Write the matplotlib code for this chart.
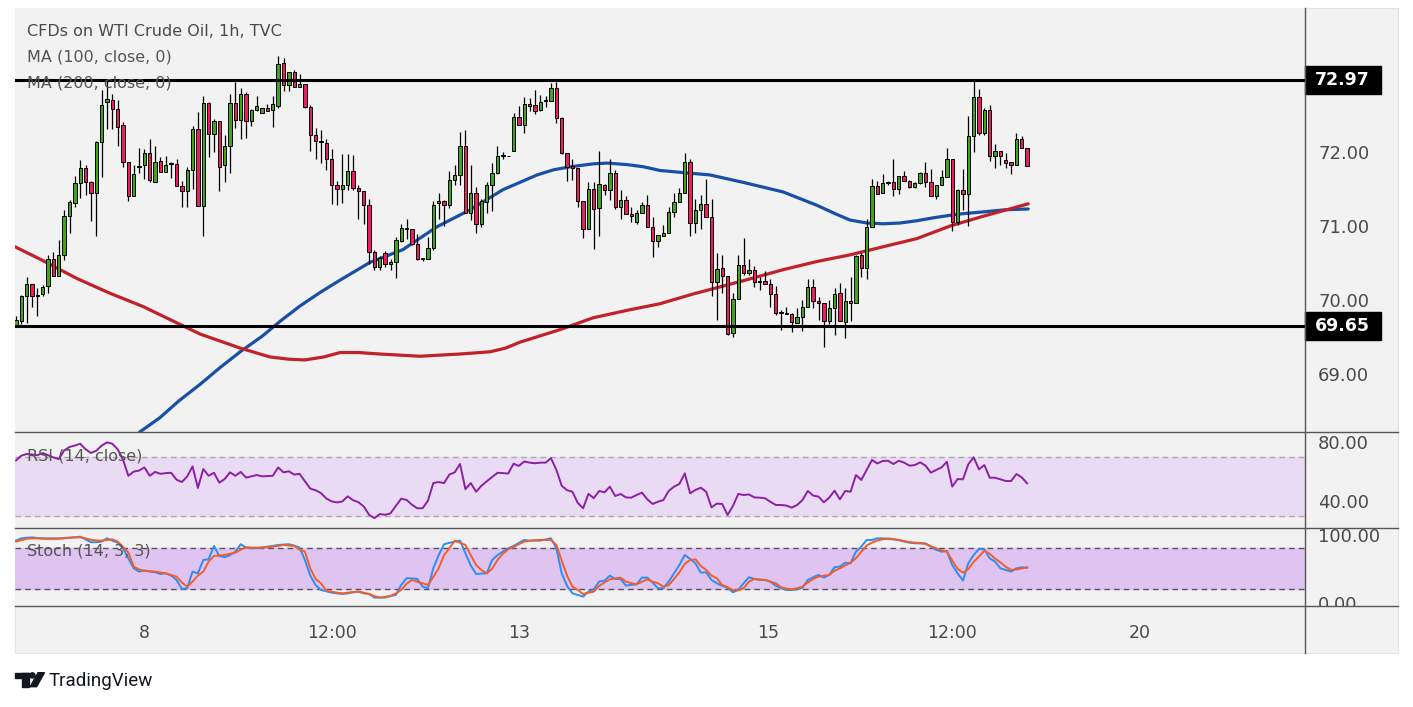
import matplotlib
matplotlib.use('agg')
import matplotlib.pyplot as plt
import matplotlib.transforms as mtrans
from matplotlib.patches import Rectangle, Polygon, Ellipse

plt.rcParams['font.family'] = ['DejaVu Sans']

# hourly candles, WTI crude CFD
opens = [69.65, 69.71, 70.05, 70.21, 70.05, 70.08, 70.19, 70.56, 70.33, 70.61,
         71.14, 71.31, 71.58, 71.79, 71.60, 71.45, 72.13, 72.67, 72.70, 72.58,
         72.36, 71.87, 71.41, 71.80, 71.82, 71.99, 71.60, 71.88, 71.73, 71.84,
         71.84, 71.54, 71.47, 71.75, 72.31, 71.27, 72.66, 72.24, 72.42, 71.83,
         72.08, 72.66, 72.43, 72.79, 72.42, 72.57, 72.53, 72.60, 72.57, 72.62,
         73.20, 72.90, 73.08, 72.88, 72.92, 72.61, 72.23, 72.15, 72.12, 71.90,
         71.56, 71.50, 71.55, 71.74, 71.52, 71.47, 71.28, 70.65, 70.44, 70.64,
         70.49, 70.52, 70.80, 70.96, 70.96, 70.75, 70.55, 70.55, 70.70, 71.31,
         71.34, 71.29, 71.62, 71.69, 72.08, 71.18, 71.44, 71.03, 71.32, 71.55,
         71.72, 71.95, 71.94, 72.02, 72.47, 72.37, 72.65, 72.63, 72.57, 72.69,
         72.69, 72.87, 72.46, 71.98, 71.81, 71.79, 71.34, 70.96, 71.50, 71.24,
         71.56, 71.48, 71.72, 71.25, 71.35, 71.16, 71.05, 71.18, 71.29, 70.99,
         70.80, 70.86, 70.90, 71.19, 71.33, 71.45, 71.86, 71.04, 71.22, 71.30,
         71.12, 70.24, 70.43, 70.32, 69.55, 70.02, 70.47, 70.36, 70.41, 70.24,
         70.25, 70.21, 70.08, 69.83, 69.83, 69.81, 69.69, 69.77, 69.91, 70.17,
         69.98, 69.96, 69.72, 69.89, 70.09, 69.70, 69.99, 69.96, 70.61, 70.43,
         70.99, 71.54, 71.44, 71.58, 71.60, 71.50, 71.68, 71.61, 71.53, 71.58,
         71.71, 71.59, 71.41, 71.55, 71.66, 71.91, 71.06, 71.49, 71.43, 72.22,
         72.74, 72.26, 72.57, 71.95, 72.01, 71.89, 71.87, 71.83, 72.18, 72.05]
highs = [69.78, 70.07, 70.31, 70.21, 70.16, 70.20, 70.61, 70.65, 70.81, 71.22,
         71.35, 71.67, 71.89, 71.82, 71.61, 72.15, 72.84, 72.97, 72.78, 72.70,
         72.41, 71.87, 71.83, 72.05, 72.04, 72.17, 72.08, 71.93, 71.95, 71.87,
         71.90, 71.61, 71.80, 72.35, 72.54, 72.76, 72.67, 72.44, 72.42, 72.23,
         72.78, 72.95, 72.86, 72.81, 72.58, 72.75, 72.60, 72.65, 72.75, 73.30,
         73.27, 73.08, 73.11, 73.06, 72.92, 72.63, 72.32, 72.30, 72.17, 72.04,
         71.61, 71.97, 71.97, 71.96, 71.56, 71.47, 71.37, 70.67, 70.60, 70.66,
         70.56, 70.85, 71.03, 71.10, 70.96, 70.89, 70.57, 70.85, 71.34, 71.45,
         71.35, 71.74, 71.82, 72.27, 72.30, 71.82, 71.53, 71.37, 71.60, 71.85,
         72.08, 72.00, 71.94, 72.53, 72.62, 72.74, 72.73, 72.84, 72.77, 72.75,
         72.93, 72.95, 72.47, 71.99, 71.90, 71.79, 71.34, 71.59, 71.59, 72.01,
         71.57, 71.91, 71.76, 71.49, 71.40, 71.26, 71.22, 71.32, 71.42, 71.12,
         70.88, 71.01, 71.26, 71.44, 71.52, 71.99, 71.91, 71.36, 71.42, 71.63,
         71.36, 70.63, 70.61, 70.32, 70.10, 70.61, 70.84, 70.56, 70.46, 70.31,
         70.39, 70.28, 70.19, 69.87, 69.90, 69.83, 69.89, 70.00, 70.28, 70.28,
         70.04, 69.96, 70.00, 70.16, 70.23, 70.16, 70.31, 70.61, 70.64, 71.10,
         71.63, 71.61, 71.70, 71.61, 71.90, 71.68, 71.74, 71.62, 71.60, 71.73,
         71.86, 71.77, 71.55, 71.76, 72.06, 71.91, 71.50, 71.77, 72.49, 72.97,
         72.85, 72.59, 72.64, 72.11, 72.01, 71.99, 71.87, 72.25, 72.22, 72.05]
lows = [69.65, 69.67, 69.69, 69.90, 69.78, 70.05, 70.09, 70.33, 70.32, 70.54,
        70.90, 71.25, 71.38, 71.42, 71.07, 70.87, 71.66, 72.31, 72.31, 72.08,
        71.80, 71.34, 71.41, 71.71, 71.63, 71.60, 71.60, 71.73, 71.73, 71.65,
        71.54, 71.25, 71.25, 71.50, 71.27, 70.87, 71.93, 72.00, 71.47, 71.60,
        71.71, 72.33, 72.17, 72.19, 72.35, 72.55, 72.53, 72.56, 72.34, 72.59,
        72.83, 72.83, 72.88, 72.88, 72.60, 72.02, 71.90, 71.85, 71.75, 71.30,
        71.28, 71.31, 71.49, 71.49, 71.10, 71.03, 70.48, 70.40, 70.41, 70.45,
        70.40, 70.30, 70.78, 70.83, 70.74, 70.54, 70.53, 70.55, 70.68, 71.10,
        71.00, 71.24, 71.55, 71.55, 71.18, 71.08, 70.91, 70.98, 71.17, 71.20,
        71.70, 71.90, 71.94, 72.01, 72.36, 72.26, 72.55, 72.52, 72.55, 72.61,
        72.69, 72.39, 71.97, 71.61, 71.62, 71.25, 70.84, 70.96, 70.69, 70.86,
        71.42, 71.35, 71.23, 71.10, 71.16, 71.06, 71.03, 71.17, 70.98, 70.58,
        70.71, 70.86, 70.90, 71.12, 71.32, 71.44, 70.86, 70.90, 70.96, 71.12,
        70.05, 69.73, 70.10, 69.53, 69.50, 70.02, 70.34, 70.34, 70.18, 70.13,
        70.21, 69.91, 69.80, 69.59, 69.81, 69.57, 69.69, 69.58, 69.91, 69.89,
        69.73, 69.36, 69.68, 69.53, 69.71, 69.49, 69.71, 69.96, 70.31, 70.28,
        70.99, 71.43, 71.44, 71.56, 71.40, 71.43, 71.61, 71.51, 71.51, 71.57,
        71.53, 71.41, 71.37, 71.55, 71.66, 70.93, 71.02, 71.21, 71.00, 72.00,
        72.23, 72.23, 71.88, 71.79, 71.83, 71.79, 71.70, 71.83, 72.05, 71.81]
closes = [69.73, 70.05, 70.21, 70.06, 70.07, 70.18, 70.56, 70.33, 70.61, 71.14,
          71.33, 71.58, 71.79, 71.60, 71.45, 72.13, 72.64, 72.71, 72.58, 72.34,
          71.87, 71.41, 71.70, 71.81, 71.99, 71.62, 71.87, 71.73, 71.83, 71.84,
          71.54, 71.47, 71.75, 72.31, 71.27, 72.66, 72.24, 72.42, 71.80, 72.08,
          72.66, 72.43, 72.79, 72.42, 72.57, 72.62, 72.60, 72.56, 72.65, 73.19,
          72.90, 73.08, 72.88, 72.92, 72.61, 72.23, 72.15, 72.13, 71.90, 71.56,
          71.50, 71.55, 71.74, 71.52, 71.47, 71.28, 70.65, 70.45, 70.57, 70.49,
          70.52, 70.81, 70.97, 70.96, 70.75, 70.55, 70.55, 70.70, 71.29, 71.34,
          71.29, 71.62, 71.69, 72.08, 71.18, 71.44, 71.03, 71.34, 71.55, 71.72,
          71.95, 71.95, 71.94, 72.47, 72.37, 72.65, 72.62, 72.56, 72.68, 72.70,
          72.87, 72.46, 71.98, 71.80, 71.79, 71.34, 70.96, 71.50, 71.23, 71.57,
          71.49, 71.71, 71.25, 71.35, 71.16, 71.14, 71.18, 71.29, 70.99, 70.80,
          70.88, 70.90, 71.19, 71.33, 71.45, 71.86, 71.04, 71.22, 71.30, 71.12,
          70.24, 70.42, 70.32, 69.54, 70.02, 70.47, 70.36, 70.40, 70.24, 70.24,
          70.21, 70.08, 69.83, 69.83, 69.81, 69.70, 69.77, 69.91, 70.17, 69.98,
          69.96, 69.72, 69.89, 70.08, 69.71, 69.98, 69.96, 70.60, 70.43, 70.98,
          71.54, 71.43, 71.58, 71.59, 71.50, 71.68, 71.61, 71.53, 71.58, 71.71,
          71.59, 71.41, 71.55, 71.66, 71.91, 71.06, 71.49, 71.43, 72.22, 72.74,
          72.26, 72.57, 71.95, 72.01, 71.94, 71.85, 71.83, 72.18, 72.05, 71.81]

# moving averages, read at a few bar positions
ma100_idx = [20, 23.2, 26.9, 30.5, 34.4, 38.2, 41.9, 46, 49.5, 53.1, 56.8, 60.6, 66.2, 72.3,
             78.7, 84.9, 91, 97.4, 100.5, 103.6, 107.9, 110.5, 114.2, 117.3, 120.4, 125,
             129.7, 135.9, 143.4, 149.7, 153, 155.9, 159.1, 162, 165.2, 168.3, 171.4, 176,
             180.7, 185, 189.2]
ma100_val = [67.95, 68.22, 68.41, 68.64, 68.86, 69.09, 69.30, 69.51, 69.72, 69.92, 70.10,
             70.27, 70.51, 70.68, 70.99, 71.22, 71.49, 71.69, 71.76, 71.80, 71.84, 71.85,
             71.83, 71.80, 71.75, 71.72, 71.69, 71.59, 71.46, 71.28, 71.17, 71.08, 71.04,
             71.03, 71.04, 71.07, 71.11, 71.16, 71.19, 71.22, 71.23]
ma200_idx = [-0.2, 5.1, 11.4, 17.6, 23.8, 30.1, 34.4, 41.9, 47.5, 51, 54, 57.5, 60.6, 64,
             68, 75.5, 83, 88.6, 91.5, 94.2, 101.7, 107.9, 114.2, 120.4, 126.5, 135.9, 143.4,
             149.7, 155.9, 162.1, 168.4, 174.6, 180.7, 189.2]
ma200_val = [70.72, 70.53, 70.29, 70.09, 69.91, 69.69, 69.54, 69.35, 69.23, 69.20, 69.19,
             69.23, 69.29, 69.29, 69.27, 69.24, 69.27, 69.30, 69.35, 69.43, 69.60, 69.76,
             69.86, 69.95, 70.08, 70.26, 70.41, 70.52, 70.61, 70.72, 70.83, 71.00, 71.13,
             71.30]

rsi = [67.5, 70.7, 71.8, 71.5, 71.0, 72.5, 71.0, 69.5, 68.4, 74.2,
       76.5, 77.5, 78.7, 75.0, 72.5, 74.0, 77.4, 79.6, 78.7, 75.0,
       68.0, 57.2, 60.0, 60.7, 62.8, 57.2, 59.8, 58.5, 59.0, 59.2,
       54.6, 53.0, 56.8, 63.5, 49.0, 61.7, 57.2, 59.2, 52.6, 55.0,
       59.5, 57.2, 59.8, 56.0, 56.8, 57.7, 56.8, 57.0, 57.2, 62.8,
       59.5, 60.2, 58.0, 58.5, 53.5, 48.6, 47.5, 45.6, 42.0, 40.0,
       39.3, 40.0, 43.4, 40.8, 39.5, 36.6, 31.0, 28.8, 31.5, 31.0,
       32.0, 37.0, 41.8, 41.0, 37.8, 35.4, 35.4, 40.5, 52.3, 53.0,
       52.3, 58.0, 59.5, 65.1, 48.2, 52.3, 46.5, 50.5, 53.5, 56.4,
       59.2, 59.0, 58.7, 65.3, 63.8, 66.8, 66.0, 65.6, 66.0, 66.0,
       69.0, 61.2, 50.5, 47.5, 46.5, 39.0, 35.4, 45.0, 42.2, 47.0,
       46.1, 49.9, 43.6, 45.0, 42.7, 42.5, 44.3, 45.9, 41.4, 38.3,
       39.8, 40.9, 47.0, 49.9, 51.7, 58.8, 45.4, 47.7, 49.2, 46.5,
       36.0, 38.5, 38.3, 30.9, 36.9, 45.0, 44.3, 44.7, 42.7, 42.5,
       42.1, 39.8, 37.6, 37.6, 37.2, 35.8, 37.6, 40.9, 47.0, 43.9,
       43.2, 39.4, 42.5, 47.2, 41.4, 47.0, 46.5, 57.7, 54.4, 61.1,
       67.8, 65.5, 67.1, 67.3, 65.1, 67.3, 66.0, 64.0, 64.4, 66.2,
       64.0, 59.3, 61.1, 62.8, 66.6, 49.9, 55.0, 54.8, 64.9, 69.6,
       61.5, 64.4, 55.9, 55.9, 54.8, 53.7, 53.7, 58.4, 56.1, 52.1]

stoch_k = [91.2, 94.6, 95.5, 96.0, 95.0, 94.6, 94.6, 94.6, 94.6, 94.6,
           95.5, 96.0, 97.0, 93.0, 88.8, 89.0, 89.8, 94.6, 91.2, 88.3,
           80.0, 65.4, 50.7, 45.9, 47.3, 46.0, 44.9, 42.4, 43.4, 40.0,
           33.7, 20.5, 21.5, 45.9, 43.4, 62.9, 63.9, 83.4, 68.8, 67.0,
           70.0, 75.1, 85.9, 81.0, 80.5, 80.0, 81.0, 82.4, 83.5, 84.9,
           85.5, 85.9, 84.0, 81.0, 62.9, 40.0, 26.3, 19.0, 17.0, 15.1,
           14.0, 13.2, 14.0, 15.5, 16.6, 14.0, 13.2, 7.8, 7.8, 7.8,
           10.0, 11.7, 26.3, 36.1, 36.0, 35.1, 23.9, 21.5, 50.7, 70.0,
           85.9, 88.0, 89.8, 91.2, 72.7, 55.0, 42.4, 43.0, 43.4, 62.9,
           70.0, 75.1, 80.0, 83.4, 88.0, 92.2, 91.2, 91.2, 91.2, 93.0,
           94.6, 80.0, 43.4, 25.0, 14.1, 11.7, 9.3, 16.6, 20.0, 31.2,
           32.7, 40.0, 35.1, 35.1, 25.4, 26.3, 27.3, 37.1, 37.1, 29.8,
           21.5, 21.5, 31.2, 43.4, 55.6, 70.2, 64.4, 58.0, 44.4, 44.9,
           33.7, 28.8, 24.9, 22.4, 15.6, 19.0, 28.8, 37.6, 35.1, 33.7,
           33.7, 31.2, 25.4, 21.5, 19.0, 19.0, 20.0, 22.4, 33.7, 37.6,
           41.0, 37.1, 41.0, 52.2, 53.2, 59.0, 58.0, 75.1, 82.4, 92.2,
           92.2, 94.6, 94.6, 93.7, 93.0, 92.2, 89.8, 88.3, 87.3, 87.3,
           87.3, 82.4, 77.6, 75.1, 76.1, 55.6, 43.4, 32.7, 58.0, 70.2,
           79.0, 78.5, 65.4, 60.5, 50.7, 48.3, 45.9, 50.7, 52.2, 51.7]
stoch_d = [89.8, 92.0, 94.0, 94.6, 94.5, 94.0, 93.7, 93.7, 94.0, 95.0,
           95.5, 96.0, 96.0, 94.6, 92.5, 91.5, 91.2, 92.0, 93.2, 89.8,
           82.0, 73.7, 53.2, 49.0, 47.3, 46.5, 45.9, 44.5, 43.4, 41.0,
           38.5, 30.0, 23.9, 31.2, 40.0, 45.9, 60.5, 68.8, 69.5, 70.2,
           72.0, 73.7, 78.0, 81.5, 81.0, 81.0, 81.3, 81.5, 82.5, 83.5,
           84.9, 84.0, 83.4, 78.0, 75.1, 50.7, 35.0, 28.8, 18.0, 16.5,
           15.0, 14.1, 15.0, 16.0, 16.6, 15.0, 13.2, 10.0, 7.8, 9.0,
           10.2, 14.0, 19.0, 28.0, 33.7, 31.0, 28.8, 26.3, 38.0, 50.7,
           70.0, 80.0, 91.2, 88.0, 84.9, 70.0, 55.6, 48.0, 43.4, 50.0,
           62.9, 72.0, 78.5, 82.0, 86.0, 89.8, 91.0, 92.0, 92.2, 92.2,
           92.2, 85.0, 62.0, 40.0, 24.0, 19.0, 13.0, 15.0, 16.6, 24.9,
           30.0, 34.6, 36.0, 37.1, 31.2, 29.0, 27.3, 31.0, 34.6, 31.0,
           28.8, 23.9, 26.0, 35.0, 45.0, 57.1, 62.9, 63.9, 54.1, 48.3,
           40.0, 36.1, 26.3, 23.0, 19.0, 18.5, 21.5, 31.2, 35.1, 34.5,
           33.7, 31.0, 28.8, 23.0, 21.0, 20.0, 21.5, 23.9, 30.0, 35.0,
           38.5, 40.0, 41.0, 47.0, 50.7, 55.0, 59.0, 65.4, 75.0, 84.0,
           88.3, 91.5, 93.2, 94.6, 93.5, 92.2, 90.5, 89.0, 88.3, 87.5,
           86.3, 83.0, 80.0, 77.0, 75.1, 62.0, 50.0, 44.4, 49.3, 60.0,
           68.0, 76.6, 72.0, 65.0, 59.5, 53.0, 48.3, 49.0, 50.5, 52.2]

levels = [72.97, 69.65]
date_idx = [24, 59, 94, 140.5, 175, 210]
date_labels = ['8', '12:00', '13', '15', '12:00', '20']

W, H = 1413, 707
GREEN = '#43a31f'
RED = '#ec1f5e'
TXT = '#4a4a4a'
LINE = '#555555'
BG = '#f2f2f2'


def fx(px):
    return px / float(W)


def fy(py):
    return 1 - py / float(H)


def make_axes(fig, top, bottom):
    ax = fig.add_axes([fx(15), fy(bottom), fx(1305) - fx(15), fy(top) - fy(bottom)])
    ax.set_facecolor(BG)
    for s in ax.spines.values():
        s.set_visible(False)
    ax.set_xlim((15 - 16) / 5.35, (1305 - 16) / 5.35)
    ax.yaxis.tick_right()
    ax.tick_params(axis='y', length=0, pad=9.5, labelsize=13, labelcolor=TXT)
    ax.tick_params(axis='x', length=0)
    ax.set_xticks([])
    return ax


def draw_candles(ax):
    for i in range(len(opens)):
        o, h, l, c = opens[i], highs[i], lows[i], closes[i]
        col = GREEN if c >= o else RED
        ax.vlines(i, l, h, color='black', lw=0.9, zorder=3)
        lo = min(o, c)
        hi = max(o, c)
        if hi - lo < 0.012:
            hi = lo + 0.012
        ax.bar(i, hi - lo, bottom=lo, width=0.62, color=col, edgecolor='black',
               linewidth=0.7, zorder=4)


def main():
    fig = plt.figure(figsize=(W / 100.0, H / 100.0), dpi=100)
    fig.patch.set_facecolor('white')
    pix = mtrans.Affine2D().scale(1.0 / W, -1.0 / H).translate(0, 1) + fig.transFigure

    # chart background (an empty axes behind everything)
    bg = fig.add_axes([fx(15), fy(653), fx(1398) - fx(15), fy(8) - fy(653)], zorder=-5)
    bg.set_facecolor(BG)
    bg.set_xticks([])
    bg.set_yticks([])
    for s in bg.spines.values():
        s.set_color('#e0e3eb')

    # price panel
    ax = make_axes(fig, 8, 432)
    ax.set_ylim(72 - (432 - 152) / 74.0, 72 + (152 - 8) / 74.0)
    ax.set_yticks([69, 70, 71, 72])
    ax.set_yticklabels(['%.2f' % v for v in [69, 70, 71, 72]])
    ax.plot(ma100_idx, ma100_val, color='#1a4fa6', lw=2.3, zorder=2, solid_capstyle='round',
            solid_joinstyle='round')
    ax.plot(ma200_idx, ma200_val, color='#c0222a', lw=2.3, zorder=2, solid_capstyle='round',
            solid_joinstyle='round')
    draw_candles(ax)
    mixed = mtrans.blended_transform_factory(ax.transAxes, ax.transData)
    for lv in levels:
        ax.axhline(lv, color='black', lw=2.2, zorder=5)
        ax.add_patch(Rectangle((1.0, lv - 0.189), 76 / 1290.0, 0.378, transform=mixed,
                               facecolor='black', edgecolor='black', clip_on=False, zorder=6))
        ax.text(1.0 + 37 / 1290.0, lv, '%.2f' % lv, transform=mixed, ha='center', va='center',
                color='white', fontsize=12.5, fontweight='bold', clip_on=False, zorder=7)

    # RSI panel
    ar = make_axes(fig, 432, 528)
    ar.set_ylim(70 - (528 - 456.7) / 1.49, 70 + (456.7 - 432) / 1.49)
    ar.set_yticks([40, 80])
    ar.set_yticklabels(['40.00', '80.00'])
    ar.axhspan(30, 70, color='#e9dbf3', zorder=1)
    for lv in [30, 70]:
        ar.axhline(lv, color='#ababab', lw=1, ls=(0, (4, 3)), zorder=2)
    ar.plot(range(len(rsi)), rsi, color='#8c1fa6', lw=1.4, zorder=3)

    # Stochastic panel
    ak = make_axes(fig, 528, 606)
    ak.set_ylim(80 - (606 - 548.3) / 0.683, 80 + (548.3 - 528) / 0.683)
    ak.set_yticks([0, 100])
    ak.set_yticklabels(['0.00', '100.00'])
    ak.axhspan(20, 80, color='#dfc4f2', zorder=1)
    for lv in [20, 80]:
        ak.axhline(lv, color='#555555', lw=1, ls=(0, (4, 3)), zorder=2)
    ak.plot(range(len(stoch_k)), stoch_k, color='#2a8ef5', lw=1.4, zorder=3)
    ak.plot(range(len(stoch_d)), stoch_d, color='#f45c28', lw=1.4, zorder=4)
    ak.set_xticks(date_idx)
    ak.set_xticklabels(date_labels)
    ak.tick_params(axis='x', length=0, pad=13, labelsize=12.5, labelcolor=TXT)
    # the scale labels of the stochastic pane are cut at the pane borders
    clip = mtrans.TransformedBbox(mtrans.Bbox.from_extents(fx(1305), fy(606), fx(1398), fy(528)),
                                  fig.transFigure)
    for lab in ak.get_yticklabels():
        lab.set_clip_box(clip)
        lab.set_clip_on(True)

    # panel separators, drawn over the axes edges
    for yy in [432, 528, 606]:
        fig.add_artist(plt.Line2D([15, 1398], [yy, yy], transform=pix, color=LINE, lw=1, zorder=10))
    fig.add_artist(plt.Line2D([1305, 1305], [8, 653], transform=pix, color=LINE, lw=1, zorder=10))

    # legend texts
    fig.text(fx(27), fy(31), 'CFDs on WTI Crude Oil, 1h, TVC', color=TXT, fontsize=11.5,
             va='center', ha='left', zorder=11)
    fig.text(fx(27), fy(57.5), 'MA (100, close, 0)', color='#555555', fontsize=11.5,
             va='center', ha='left', zorder=11)
    fig.text(fx(27), fy(83), 'MA (200, close, 0)', color='#555555', fontsize=11.5,
             va='center', ha='left', zorder=11)
    fig.text(fx(27), fy(456), 'RSI (14, close)', color='#555555', fontsize=11.5,
             va='center', ha='left', zorder=11)
    fig.text(fx(27), fy(551), 'Stoch (14, 3, 3)', color='#555555', fontsize=11.5,
             va='center', ha='left', zorder=11)

    # TradingView mark
    dark = '#131722'
    fig.patches.append(Rectangle((15.3, 672.7), 13.4, 4.8, transform=pix, color=dark))
    fig.patches.append(Rectangle((22.2, 672.7), 6.5, 14.0, transform=pix, color=dark))
    fig.patches.append(Ellipse((32.4, 675.4), 5.2, 5.2, transform=pix, color=dark))
    fig.patches.append(Polygon([(38.0, 672.7), (44.5, 672.7), (36.6, 686.7), (30.2, 686.7)],
                               closed=True, transform=pix, color=dark))
    fig.text(fx(49), fy(681), 'TradingView', color=dark, fontsize=13.5, family='Roboto',
             va='center', ha='left')

    fig.savefig('out.png', dpi=100, facecolor='white')
    plt.close(fig)


if __name__ == "__main__":
    main()
